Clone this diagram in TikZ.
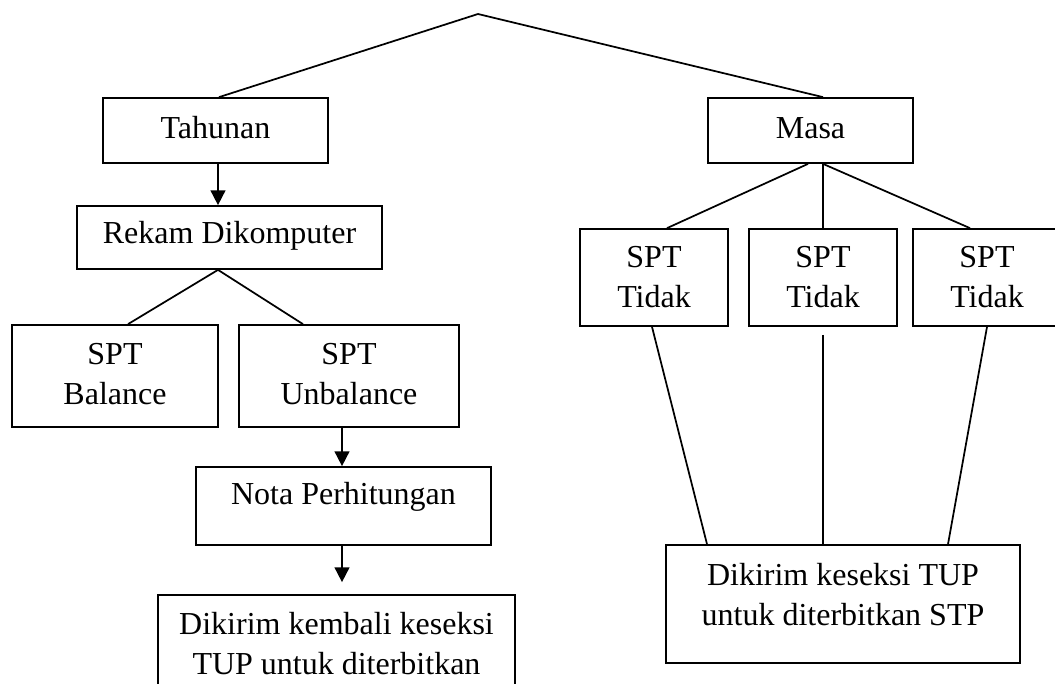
\documentclass[tikz,border=0pt]{standalone}
\usepackage{fontspec}
\setmainfont{Liberation Serif}
\usetikzlibrary{calc,arrows.meta}
\begin{document}
\begin{tikzpicture}[x=0.75pt,y=-0.75pt,
  box/.style={draw,line width=1.3pt,inner sep=0pt,rectangle},
  txt/.style={align=center,inner sep=0pt,font=\fontsize{24}{30}\selectfont},
  conn/.style={line width=1.3pt},
  arr/.style={line width=1.3pt,-{Triangle[length=11pt,width=11pt]}}]
\useasboundingbox (0,0) rectangle (1055,683);
\coordinate (apex) at (478,14);
% left branch
\node[box,minimum width=168.75pt,minimum height=48.75pt] (tah) at (215.5,130.5) {};
\node[txt] at (215.5,128) {Tahunan};
\node[box,minimum width=228.75pt,minimum height=47.25pt] (rekam) at (229.5,237.5) {};
\node[txt] at (229.5,236) {Rekam Dikomputer};
\node[box,minimum width=154.5pt,minimum height=76.5pt] (bal) at (115,376) {};
\node[txt] at (115,374) {SPT\\Balance};
\node[box,minimum width=165pt,minimum height=76.5pt] (unb) at (349,376) {};
\node[txt] at (349,374) {SPT\\Unbalance};
\node[box,minimum width=221.25pt,minimum height=58.5pt] (nota) at (343.5,506) {};
\node[txt] at (343.5,497) {Nota Perhitungan};
\node[box,minimum width=267.75pt,minimum height=78.75pt] (kirim) at (336.5,647.5) {};
\node[txt] at (336.5,644) {Dikirim kembali keseksi\\TUP untuk diterbitkan};
% right branch
\node[box,minimum width=153.75pt,minimum height=48.75pt] (masa) at (810.5,130.5) {};
\node[txt] at (810.5,128) {Masa};
\node[box,minimum width=111pt,minimum height=72.75pt] (t1) at (654,277.5) {};
\node[txt] at (654,277) {SPT\\Tidak};
\node[box,minimum width=111pt,minimum height=72.75pt] (t2) at (823,277.5) {};
\node[txt] at (823,277) {SPT\\Tidak};
\node[box,minimum width=111pt,minimum height=72.75pt] (t3) at (987,277.5) {};
\node[txt] at (987,277) {SPT\\Tidak};
\node[box,minimum width=265.5pt,minimum height=88.5pt] (stp) at (843,604) {};
\node[txt] at (843,595) {Dikirim keseksi TUP\\untuk diterbitkan STP};
% connector end points
\coordinate (tahS) at ($(tah.south)+(2.5,0)$);
\coordinate (unbS) at ($(unb.south)+(-7,0)$);
\coordinate (notaS) at ($(nota.south)+(-1.5,0)$);
% connectors
\draw[conn] ($(tah.north)+(3.5,0)$) -- (apex) -- ($(masa.north)+(12.5,0)$);
\draw[arr] (tahS) -- (tahS |- rekam.north);
\draw[conn] ($(bal.north)+(13,0)$) -- ($(rekam.south)+(-11.5,0)$) -- ($(unb.north)+(-46,0)$);
\draw[arr] (unbS) -- (unbS |- nota.north);
\draw[arr,shorten >=9pt] (notaS) -- (notaS |- kirim.north);
\draw[conn] ($(t1.north)+(13,0)$) -- ($(masa.south)+(-2.5,0)$);
\draw[conn] (t2.north) -- ($(masa.south)+(12.5,0)$) -- ($(t3.north)+(-17,0)$);
\draw[conn] ($(t1.south)+(-2,0)$) -- ($(stp.north)+(-136,0)$);
\draw[conn,shorten <=6pt] (t2.south) -- ($(stp.north)+(-20,0)$);
\draw[conn] (t3.south) -- ($(stp.north)+(105,0)$);
\end{tikzpicture}
\end{document}
